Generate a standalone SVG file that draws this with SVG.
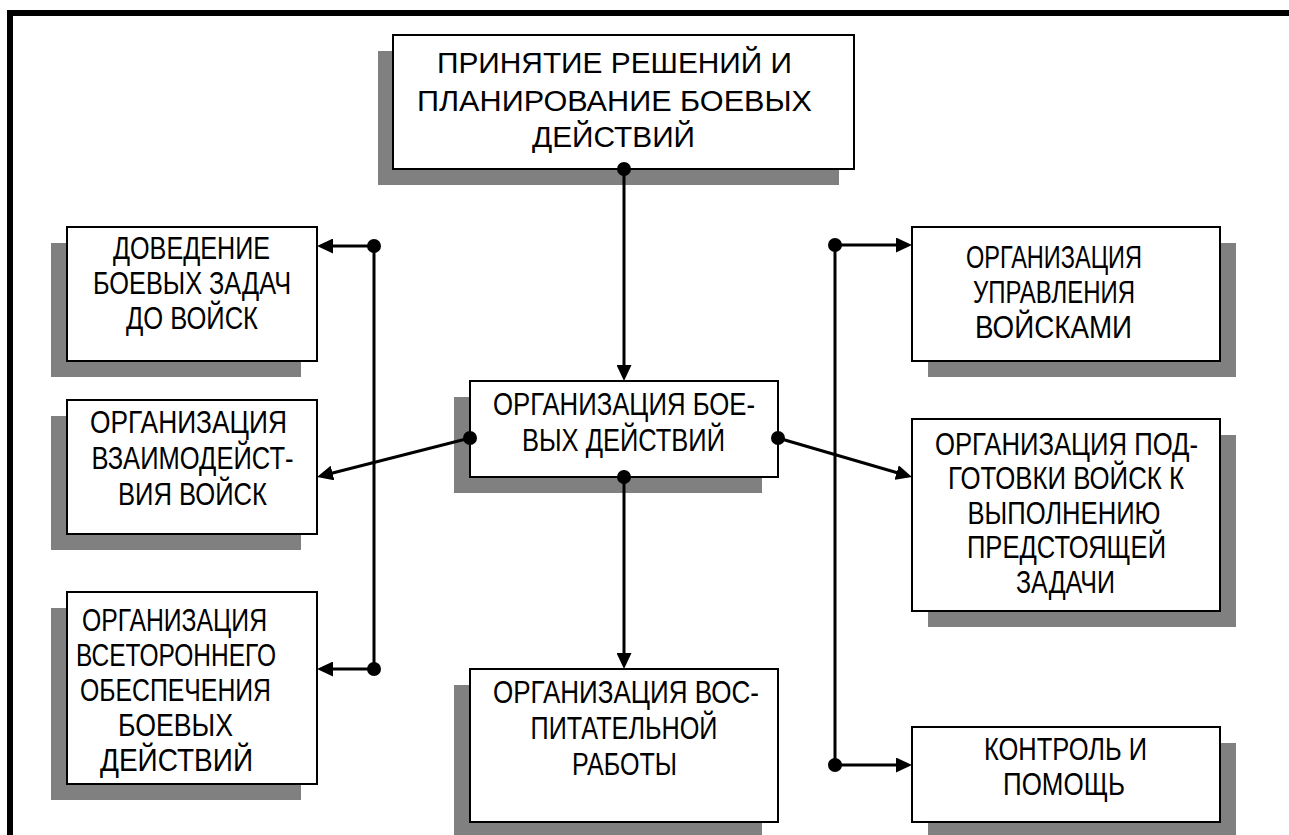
<svg xmlns="http://www.w3.org/2000/svg" width="1289" height="835" viewBox="0 0 1289 835">
<style>
.sh{fill:#808080;stroke:none}
.bx{fill:#fff;stroke:#000;stroke-width:2}
.t{font-family:"Liberation Sans",Arial,sans-serif;font-size:32px;fill:#000;text-anchor:middle}
.tt{font-size:29px}
.c{fill:none;stroke:#000;stroke-width:3}
</style>
<defs>
<marker id="arr" markerUnits="userSpaceOnUse" markerWidth="17" markerHeight="15" refX="6" refY="7.5" orient="auto"><path d="M0,0 L16,7.5 L0,15 z" fill="#000"/></marker>
<marker id="dot" markerUnits="userSpaceOnUse" markerWidth="16" markerHeight="16" refX="8" refY="8"><circle cx="8" cy="8" r="7" fill="#000"/></marker>
</defs>
<rect width="1289" height="835" fill="#fff"/>
<path d="M10,835 V13 H1289" fill="none" stroke="#000" stroke-width="6"/>

<g id="n1">
<rect class="sh" x="378" y="51" width="461" height="134"/>
<rect class="bx" x="393" y="35" width="461" height="134"/>
<text class="t tt" x="614.5" y="73" textLength="355" lengthAdjust="spacingAndGlyphs">ПРИНЯТИЕ РЕШЕНИЙ И</text>
<text class="t tt" x="614.5" y="111" textLength="395" lengthAdjust="spacingAndGlyphs">ПЛАНИРОВАНИЕ БОЕВЫХ</text>
<text class="t tt" x="613.5" y="147" textLength="163" lengthAdjust="spacingAndGlyphs">ДЕЙСТВИЙ</text>
</g>

<g id="n2">
<rect class="sh" x="51" y="243" width="250" height="134"/>
<rect class="bx" x="67" y="227" width="250" height="134"/>
<text class="t" x="191.5" y="259" textLength="157" lengthAdjust="spacingAndGlyphs">ДОВЕДЕНИЕ</text>
<text class="t" x="192" y="294" textLength="198" lengthAdjust="spacingAndGlyphs">БОЕВЫХ ЗАДАЧ</text>
<text class="t" x="192" y="329" textLength="132" lengthAdjust="spacingAndGlyphs">ДО ВОЙСК</text>
</g>

<g id="n3">
<rect class="sh" x="51" y="416" width="250" height="134"/>
<rect class="bx" x="67" y="400" width="250" height="134"/>
<text class="t" x="188.5" y="433" textLength="197" lengthAdjust="spacingAndGlyphs">ОРГАНИЗАЦИЯ</text>
<text class="t" x="192.5" y="469" textLength="202" lengthAdjust="spacingAndGlyphs">ВЗАИМОДЕЙСТ-</text>
<text class="t" x="192.5" y="505" textLength="149" lengthAdjust="spacingAndGlyphs">ВИЯ ВОЙСК</text>
</g>

<g id="n4">
<rect class="sh" x="51" y="608" width="250" height="192"/>
<rect class="bx" x="67" y="592" width="250" height="192"/>
<text class="t" x="174.5" y="631" textLength="185" lengthAdjust="spacingAndGlyphs">ОРГАНИЗАЦИЯ</text>
<text class="t" x="176" y="666" textLength="200" lengthAdjust="spacingAndGlyphs">ВСЕТОРОННЕГО</text>
<text class="t" x="175.5" y="701" textLength="191" lengthAdjust="spacingAndGlyphs">ОБЕСПЕЧЕНИЯ</text>
<text class="t" x="175.5" y="736" textLength="115" lengthAdjust="spacingAndGlyphs">БОЕВЫХ</text>
<text class="t" x="176.5" y="771" textLength="153" lengthAdjust="spacingAndGlyphs">ДЕЙСТВИЙ</text>
</g>

<g id="n5">
<rect class="sh" x="454" y="397" width="308" height="96"/>
<rect class="bx" x="470" y="381" width="308" height="96"/>
<text class="t" x="624" y="415" textLength="262" lengthAdjust="spacingAndGlyphs">ОРГАНИЗАЦИЯ БОЕ-</text>
<text class="t" x="623.5" y="451" textLength="203" lengthAdjust="spacingAndGlyphs">ВЫХ ДЕЙСТВИЙ</text>
</g>

<g id="n6">
<rect class="sh" x="454" y="685" width="308" height="150"/>
<rect class="bx" x="470" y="669" width="308" height="153"/>
<text class="t" x="626" y="703" textLength="266" lengthAdjust="spacingAndGlyphs">ОРГАНИЗАЦИЯ ВОС-</text>
<text class="t" x="624" y="739" textLength="187" lengthAdjust="spacingAndGlyphs">ПИТАТЕЛЬНОЙ</text>
<text class="t" x="624.5" y="775" textLength="105" lengthAdjust="spacingAndGlyphs">РАБОТЫ</text>
</g>

<g id="n7">
<rect class="sh" x="928" y="243" width="308" height="134"/>
<rect class="bx" x="912" y="227" width="308" height="134"/>
<text class="t" x="1054" y="268" textLength="176" lengthAdjust="spacingAndGlyphs">ОРГАНИЗАЦИЯ</text>
<text class="t" x="1054" y="303" textLength="162" lengthAdjust="spacingAndGlyphs">УПРАВЛЕНИЯ</text>
<text class="t" x="1053.5" y="338" textLength="157" lengthAdjust="spacingAndGlyphs">ВОЙСКАМИ</text>
</g>

<g id="n8">
<rect class="sh" x="928" y="435" width="308" height="192"/>
<rect class="bx" x="912" y="419" width="308" height="192"/>
<text class="t" x="1066.5" y="455" textLength="263" lengthAdjust="spacingAndGlyphs">ОРГАНИЗАЦИЯ ПОД-</text>
<text class="t" x="1066" y="489" textLength="236" lengthAdjust="spacingAndGlyphs">ГОТОВКИ ВОЙСК К</text>
<text class="t" x="1064" y="524" textLength="193" lengthAdjust="spacingAndGlyphs">ВЫПОЛНЕНИЮ</text>
<text class="t" x="1066.5" y="558" textLength="199" lengthAdjust="spacingAndGlyphs">ПРЕДСТОЯЩЕЙ</text>
<text class="t" x="1065.5" y="593" textLength="99" lengthAdjust="spacingAndGlyphs">ЗАДАЧИ</text>
</g>

<g id="n9">
<rect class="sh" x="928" y="743" width="308" height="92"/>
<rect class="bx" x="912" y="727" width="308" height="95"/>
<text class="t" x="1065.5" y="760" textLength="163" lengthAdjust="spacingAndGlyphs">КОНТРОЛЬ И</text>
<text class="t" x="1064" y="795" textLength="122" lengthAdjust="spacingAndGlyphs">ПОМОЩЬ</text>
</g>

<g id="connectors">
<path class="c" d="M624,169 V371" marker-start="url(#dot)" marker-end="url(#arr)"/>
<path class="c" d="M470,438 L326.7,474.5" marker-start="url(#dot)" marker-end="url(#arr)"/>
<path class="c" d="M778,438 L902.4,474.2" marker-start="url(#dot)" marker-end="url(#arr)"/>
<path class="c" d="M624,477 V659" marker-start="url(#dot)" marker-end="url(#arr)"/>
<path class="c" d="M374,246 V669"/>
<path class="c" d="M374,246 H327" marker-start="url(#dot)" marker-end="url(#arr)"/>
<path class="c" d="M374,669 H327" marker-start="url(#dot)" marker-end="url(#arr)"/>
<path class="c" d="M835,245 V765"/>
<path class="c" d="M835,245 H902" marker-start="url(#dot)" marker-end="url(#arr)"/>
<path class="c" d="M835,765 H902" marker-start="url(#dot)" marker-end="url(#arr)"/>
</g>
</svg>
